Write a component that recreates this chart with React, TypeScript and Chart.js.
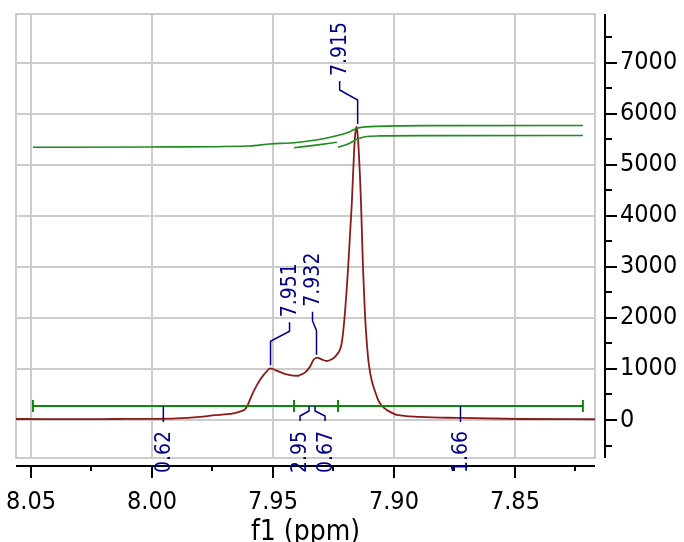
import React, { useEffect, useRef } from 'react';
import { Chart, registerables } from 'chart.js';

Chart.register(...registerables);

// ---------- data ----------
const spectrumPpm = [
  8.0562, 8.045, 8.03, 8.015, 8.0, 7.99, 7.9802, 7.975, 7.9664, 7.964, 7.9625, 7.9616,
  7.9605, 7.9595, 7.958, 7.9567, 7.9553, 7.954, 7.9524, 7.9512, 7.95, 7.9485, 7.9457,
  7.943, 7.9416, 7.9395, 7.9388, 7.9368, 7.9347, 7.9333, 7.9317, 7.9299, 7.9278, 7.9257,
  7.9237, 7.9216, 7.9205, 7.9194, 7.919, 7.9174, 7.9165, 7.916, 7.9155, 7.915, 7.9145,
  7.9136, 7.9128, 7.912, 7.9112, 7.9104, 7.9091, 7.9075, 7.9066, 7.905, 7.9029, 7.9,
  7.8988, 7.8893, 7.8727, 7.8479, 7.8169,
];
const spectrumIntensity = [
  20, 18, 18, 20, 22, 30, 62, 90, 130, 160, 185, 210,
  285, 400, 560, 680, 790, 875, 965, 1013, 1000, 967, 915,
  880, 870, 868, 882, 928, 1045, 1176, 1222, 1190, 1157, 1190,
  1275, 1504, 1960, 2650, 2940, 4255, 5235, 5600, 5745, 5600, 5235,
  4255, 3000, 2100, 1510, 1100, 760, 520, 400, 280, 195, 120,
  100, 60, 40, 20, 15,
];

const integral1Ppm = [8.0492, 8.0008, 7.9599, 7.9512, 7.9413, 7.9322, 7.9264, 7.9182, 7.9154, 7.9132, 7.9099, 7.8851, 7.8219];
const integral1Value = [5347, 5353, 5373, 5412, 5437, 5490, 5543, 5653, 5720, 5739, 5751, 5771, 5775];
const integral2Ppm = [7.9413, 7.9322, 7.9236];
const integral2Value = [5339, 5390, 5445];
const integral3Ppm = [7.9231, 7.919, 7.9155, 7.912, 7.9058, 7.8851, 7.8219];
const integral3Value = [5350, 5410, 5500, 5555, 5570, 5576, 5578];

const integrationBounds = [8.0492, 7.9413, 7.9231, 7.8219];
const integrationLevel = 275;
const integralLabels = ['0.62', '2.95', '0.67', '1.66'];
const integralLabelPpm = [7.9953, 7.9351, 7.9326, 7.8725];

const peakPpm = [7.951, 7.932, 7.915];
const peakIntensity = [1015, 1222, 5745];

const xMin = 7.8169;
const xMax = 8.0562;
const yMin = -745;
const yMax = 7960;
const xMajorStep = 0.05;
const xMinorStep = 0.025;
const yMajorStep = 1000;
const yMinorStep = 500;
const xTitle = 'f1 (ppm)';

// ---------- styles ----------
const FONT = '"DejaVu Sans Condensed", "DejaVu Sans", sans-serif';
const GRID = '#cccccc';
const SPEC = '#8b1a1a';
const INTEG = '#1f8c1f';
const BAR = '#0b8a0b';
const NAVY = '#00008b';

const isMajor = (v: number, step: number) => Math.abs(v / step - Math.round(v / step)) < 1e-6;

const stepTicks = (step: number) => (s: any) => {
  const out: any[] = [];
  const start = Math.ceil(s.min / step - 1e-9);
  const end = Math.floor(s.max / step + 1e-9);
  for (let k = start; k <= end; k++) out.push({ value: Number((k * step).toFixed(6)) });
  s.ticks = out;
};

const noPad = (s: any) => {
  s.paddingTop = 0;
  s.paddingBottom = 0;
  s.paddingLeft = 0;
  s.paddingRight = 0;
};

// label layout (pixels)
const peakLabelDx = [19, -4, -18];
const integralLabelDx = [0, -9, 10, 0];

const decor = {
  id: 'nmrDecor',
  beforeDatasetsDraw(chart: any) {
    const { ctx, chartArea: a } = chart;
    ctx.save();
    ctx.strokeStyle = GRID;
    ctx.lineWidth = 2;
    ctx.strokeRect(a.left, a.top, a.right - a.left, a.bottom - a.top);
    ctx.restore();
  },
  afterDraw(chart: any) {
    const { ctx, chartArea: a } = chart;
    const xs = chart.scales.x;
    const ys = chart.scales.y;
    ctx.save();
    // x axis
    const axY = a.bottom + 8;
    ctx.strokeStyle = '#000';
    ctx.lineWidth = 2;
    ctx.beginPath();
    ctx.moveTo(a.left, axY);
    ctx.lineTo(a.right, axY);
    xs.ticks.forEach((t: any) => {
      const px = Math.round(xs.getPixelForValue(t.value));
      const len = isMajor(t.value, xMajorStep) ? 12 : 5;
      ctx.moveTo(px, axY);
      ctx.lineTo(px, axY + len);
    });
    ctx.stroke();
    // y axis
    const axX = a.right + 10;
    ctx.beginPath();
    ctx.moveTo(axX, a.top);
    ctx.lineTo(axX, a.bottom);
    ys.ticks.forEach((t: any) => {
      const py = Math.round(ys.getPixelForValue(t.value));
      const len = isMajor(t.value, yMajorStep) ? 12 : 7;
      ctx.moveTo(axX, py);
      ctx.lineTo(axX + len, py);
    });
    ctx.stroke();

    // peak labels
    ctx.strokeStyle = NAVY;
    ctx.fillStyle = NAVY;
    ctx.lineWidth = 1.5;
    ctx.font = `21px ${FONT}`;
    peakPpm.forEach((p, i) => {
      const px = xs.getPixelForValue(p);
      const py = ys.getPixelForValue(peakIntensity[i]);
      const lx = px + peakLabelDx[i];
      const y0 = py - 3;
      const y1 = y0 - 24;
      const y2 = y1 - 10;
      const y3 = y2 - 9;
      ctx.beginPath();
      ctx.moveTo(px, y0);
      ctx.lineTo(px, y1);
      ctx.lineTo(lx, y2);
      ctx.lineTo(lx, y3);
      ctx.stroke();
      ctx.save();
      ctx.translate(lx + 1, y3 - 5);
      ctx.rotate(-Math.PI / 2);
      ctx.textAlign = 'left';
      ctx.textBaseline = 'middle';
      ctx.fillText(p.toFixed(3), 0, 0);
      ctx.restore();
    });

    // integral labels
    const by = ys.getPixelForValue(integrationLevel);
    integralLabels.forEach((lab, i) => {
      const px = xs.getPixelForValue(integralLabelPpm[i]);
      const dx = integralLabelDx[i];
      const lx = px + dx;
      ctx.beginPath();
      ctx.moveTo(px, by);
      if (dx === 0) {
        ctx.lineTo(px, by + 16);
      } else {
        ctx.lineTo(px, by + 5);
        ctx.lineTo(lx, by + 10);
        ctx.lineTo(lx, by + 15);
      }
      ctx.stroke();
      ctx.save();
      ctx.translate(lx + 1, by + 25);
      ctx.rotate(-Math.PI / 2);
      ctx.textAlign = 'right';
      ctx.textBaseline = 'middle';
      ctx.fillText(lab, 0, 0);
      ctx.restore();
    });
    ctx.restore();
  },
};

const toPts = (xs: number[], ys: number[]) => xs.map((x, i) => ({ x, y: ys[i] }));

export default function App() {
  const ref = useRef<HTMLCanvasElement | null>(null);
  useEffect(() => {
    if (!ref.current) return;
    const chart = new Chart(ref.current, {
      type: 'line',
      data: {
        datasets: [
          {
            data: toPts(integral1Ppm, integral1Value),
            borderColor: INTEG, borderWidth: 1.6, pointRadius: 0, cubicInterpolationMode: 'monotone',
          },
          {
            data: toPts(integral2Ppm, integral2Value),
            borderColor: INTEG, borderWidth: 1.6, pointRadius: 0, cubicInterpolationMode: 'monotone',
          },
          {
            data: toPts(integral3Ppm, integral3Value),
            borderColor: INTEG, borderWidth: 1.6, pointRadius: 0, cubicInterpolationMode: 'monotone',
          },
          {
            data: integrationBounds.map((x) => ({ x, y: integrationLevel })),
            borderColor: BAR, borderWidth: 2, pointRadius: 6, pointStyle: 'line', pointRotation: 90,
            pointBorderColor: BAR, pointBackgroundColor: BAR, pointBorderWidth: 2, tension: 0,
          },
          {
            data: toPts(spectrumPpm, spectrumIntensity),
            borderColor: SPEC, borderWidth: 1.8, pointRadius: 0, cubicInterpolationMode: 'monotone',
          },
        ],
      } as any,
      options: {
        animation: false,
        responsive: false,
        devicePixelRatio: 1,
        events: [],
        layout: { padding: { left: 16, top: 14, right: 0, bottom: 0 } },
        plugins: { legend: { display: false }, tooltip: { enabled: false } },
        scales: {
          x: {
            type: 'linear',
            reverse: true,
            min: xMin,
            max: xMax,
            afterBuildTicks: stepTicks(xMinorStep),
            afterFit: (s: any) => { s.height = 84; noPad(s); },
            border: { display: false },
            grid: {
              color: (c: any) => (c.tick && isMajor(c.tick.value, xMajorStep) ? GRID : 'rgba(0,0,0,0)'),
              lineWidth: 2,
              drawTicks: false,
            },
            ticks: {
              autoSkip: false,
              maxRotation: 0,
              padding: 29,
              color: '#000',
              font: { family: FONT, size: 25 },
              callback: (v: any) => (isMajor(Number(v), xMajorStep) ? Number(v).toFixed(2) : ''),
            },
            title: {
              display: true,
              text: xTitle,
              color: '#000',
              font: { family: FONT, size: 28, lineHeight: 1 },
              padding: { top: 0, bottom: -5 },
            },
          },
          y: {
            type: 'linear',
            position: 'right',
            min: yMin,
            max: yMax,
            afterBuildTicks: stepTicks(yMinorStep),
            afterFit: (s: any) => { s.width = 89; noPad(s); },
            border: { display: false },
            grid: {
              color: (c: any) => (c.tick && isMajor(c.tick.value, yMajorStep) ? GRID : 'rgba(0,0,0,0)'),
              lineWidth: 2,
              drawTicks: false,
            },
            ticks: {
              autoSkip: false,
              padding: 25,
              color: '#000',
              font: { family: FONT, size: 25 },
              callback: (v: any) => (isMajor(Number(v), yMajorStep) ? String(Math.round(Number(v))) : ''),
            },
          },
        },
      } as any,
      plugins: [decor],
    });
    return () => chart.destroy();
  }, []);
  return (
    <canvas
      ref={ref}
      width={684}
      height={542}
      style={{ position: 'fixed', left: 0, top: 0, width: 684, height: 542 }}
    />
  );
}
